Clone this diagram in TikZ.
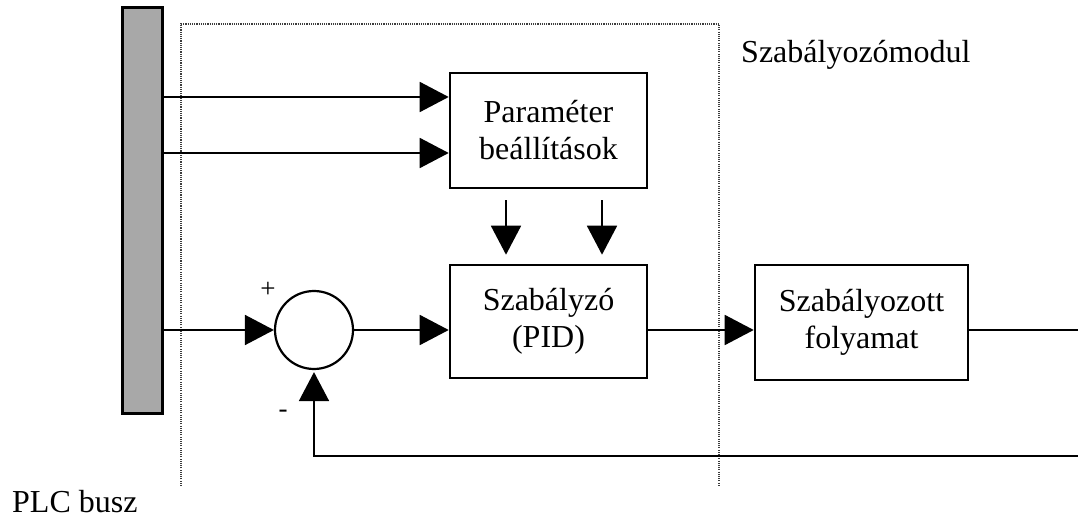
\documentclass[tikz,border=0pt]{standalone}
\usepackage{fontspec}
\setmainfont{Liberation Serif}
\usetikzlibrary{arrows.meta}
\definecolor{bargray}{RGB}{168,168,168}
\definecolor{dotgray}{RGB}{60,60,60}
\begin{document}
\begin{tikzpicture}[x=1pt,y=-1pt,
  box/.style={draw,line width=2.6pt,inner sep=0pt,align=center,
    font=\fontsize{32}{37}\selectfont},
  conn/.style={line width=1.8pt},
  arr/.style={conn,-{Triangle[length=29pt,width=30pt]}},
  dotbox/.style={line width=1.1pt,dotgray,dash pattern=on 1.1pt off 1.1pt},
  lbl/.style={inner sep=0pt,font=\fontsize{32}{37}\selectfont},
  sign/.style={inner sep=0pt,font=\fontsize{27}{27}\selectfont}]
\useasboundingbox (0,0) rectangle (1078,518);
% PLC bus bar
\node[draw,line width=3pt,fill=bargray,minimum width=40pt,minimum height=405pt,inner sep=0pt] (bar) at (142,210.5) {};
% dotted module frame
\draw[dotbox] (181,486) -- (181,24) -- (719,24) -- (719,486);
% blocks
\node[box,minimum width=197pt,minimum height=115pt] (param) at (548.5,130.5) {Paraméter\\beállítások};
\node[box,minimum width=197pt,minimum height=113pt] (pid) at (548.5,321.5) {Szabályzó\\(PID)};
\node[box,minimum width=213pt,minimum height=115pt] (proc) at (861.5,322.5) {Szabályozott\\folyamat};
\node[draw,circle,line width=2.2pt,minimum size=78pt,inner sep=0pt] (sum) at (314,330) {};
% helper coordinates
\coordinate (r1) at (0,97);
\coordinate (r2) at (0,153);
\coordinate (d1) at (506,0);
\coordinate (d2) at (602,0);
\coordinate (outR) at (1078,330);
\coordinate (fbR) at (1078,456);
% connectors
\draw[arr] (bar.east |- r1) -- (param.west |- r1);
\draw[arr] (bar.east |- r2) -- (param.west |- r2);
\draw[arr,shorten <=11pt,shorten >=9pt] (param.south -| d1) -- (pid.north -| d1);
\draw[arr,shorten <=11pt,shorten >=9pt] (param.south -| d2) -- (pid.north -| d2);
\draw[arr] (bar.east |- sum.west) -- (sum.west);
\draw[arr] (sum.east) -- (pid.west |- sum.east);
\draw[arr] (pid.east |- sum.east) -- (proc.west |- sum.east);
\draw[conn] (proc.east |- outR) -- (outR);
\draw[arr,shorten >=2pt] (fbR) -- (fbR -| sum.south) -- (sum.south);
% labels
\node[sign] (plus) at (268,290) {+};
\node[sign] (minus) at (283,414) {-};
\node[lbl,anchor=base west] (title) at (741,63) {Szabályozómodul};
\node[lbl,anchor=base west] (plc) at (12,512) {PLC busz};
\end{tikzpicture}
\end{document}
